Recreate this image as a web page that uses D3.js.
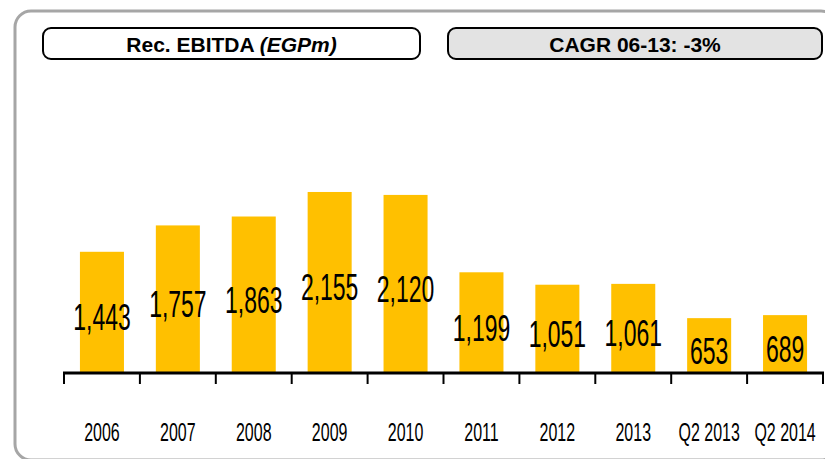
<!DOCTYPE html>
<html>
<head>
<meta charset="utf-8">
<script src="https://cdn.jsdelivr.net/npm/d3@7/dist/d3.min.js"></script>
<style>
  html, body { margin: 0; padding: 0; background: #ffffff; }
  svg { display: block; }
</style>
</head>
<body>
<svg id="chart" width="825" height="459"></svg>
<script>
// Recurring EBITDA by period, EGP millions
const categories = ["2006", "2007", "2008", "2009", "2010", "2011", "2012", "2013", "Q2 2013", "Q2 2014"];
const values = [1443, 1757, 1863, 2155, 2120, 1199, 1051, 1061, 653, 689];
const titleMain = "Rec. EBITDA ";
const titleUnit = "(EGPm)";
const cagrText = "CAGR 06-13: -3%";

const svg = d3.select("#chart");
const W = 825, H = 459;
const sans = "'Liberation Sans', Arial, Helvetica, sans-serif";
// condensed look: regular sans squeezed horizontally, stretched vertically
const squeeze = "scale(0.82,1.33)";

svg.append("rect").attr("width", W).attr("height", H).attr("fill", "#ffffff");

// outer rounded frame
svg.append("rect")
  .attr("x", 15).attr("y", 11)
  .attr("width", 822).attr("height", 449)
  .attr("rx", 16).attr("ry", 16)
  .attr("fill", "none")
  .attr("stroke", "#a6a6a6")
  .attr("stroke-width", 3);

// header pills
function pill(x0, x1, fill, build) {
  svg.append("rect")
    .attr("x", x0).attr("y", 28)
    .attr("width", x1 - x0).attr("height", 31)
    .attr("rx", 8).attr("ry", 8)
    .attr("fill", fill)
    .attr("stroke", "#000000")
    .attr("stroke-width", 2);
  const t = svg.append("text")
    .attr("x", (x0 + x1) / 2).attr("y", 52)
    .attr("text-anchor", "middle")
    .attr("font-family", sans)
    .attr("font-weight", "bold")
    .attr("font-size", 21)
    .attr("fill", "#000000");
  build(t);
}
pill(43, 420, "#ffffff", t => {
  t.append("tspan").text(titleMain);
  t.append("tspan").attr("font-style", "italic").text(titleUnit);
});
pill(448, 822, "#e3e3e3", t => t.text(cagrText));

// scales
const baseY = 373;
const x = d3.scaleBand()
  .domain(categories)
  .range([64, 823])
  .paddingInner(0.42)
  .paddingOuter(0.21);
const y = d3.scaleLinear()
  .domain([0, 2500])
  .range([baseY, baseY - 210]);

// bars
svg.append("g").selectAll("rect")
  .data(values)
  .join("rect")
  .attr("x", (d, i) => x(categories[i]))
  .attr("width", x.bandwidth())
  .attr("y", d => y(d))
  .attr("height", d => baseY - y(d))
  .attr("fill", "#FFC000");

// value labels, centred inside each bar
const fmt = d3.format(",");
svg.append("g").selectAll("text")
  .data(values)
  .join("text")
  .attr("transform", (d, i) => {
    const cx = x(categories[i]) + x.bandwidth() / 2;
    const cy = (y(d) + baseY) / 2 + 18;
    return `translate(${cx},${cy}) ${squeeze}`;
  })
  .attr("text-anchor", "middle")
  .attr("font-family", sans)
  .attr("font-size", 28)
  .attr("fill", "#000000")
  .text(d => fmt(d));

// category axis: ticks sit on the boundaries between categories
const step = x.step();
const gap = step - x.bandwidth();
const bounds = categories.map(c => x(c) - gap / 2).concat([x(categories[categories.length - 1]) + x.bandwidth() + gap / 2]);

const axis = svg.append("g");
axis.selectAll("line.tick")
  .data(bounds)
  .join("line")
  .attr("class", "tick")
  .attr("x1", d => d).attr("x2", d => d)
  .attr("y1", baseY).attr("y2", baseY + 11)
  .attr("stroke", "#000000")
  .attr("stroke-width", 2);
axis.append("line")
  .attr("x1", bounds[0] - 1).attr("x2", bounds[bounds.length - 1] + 1)
  .attr("y1", baseY).attr("y2", baseY)
  .attr("stroke", "#000000")
  .attr("stroke-width", 3);

axis.selectAll("text")
  .data(categories)
  .join("text")
  .attr("transform", d => `translate(${x(d) + x.bandwidth() / 2},441) ${squeeze}`)
  .attr("text-anchor", "middle")
  .attr("font-family", sans)
  .attr("font-size", 19.5)
  .attr("fill", "#000000")
  .text(d => d);
</script>
</body>
</html>
